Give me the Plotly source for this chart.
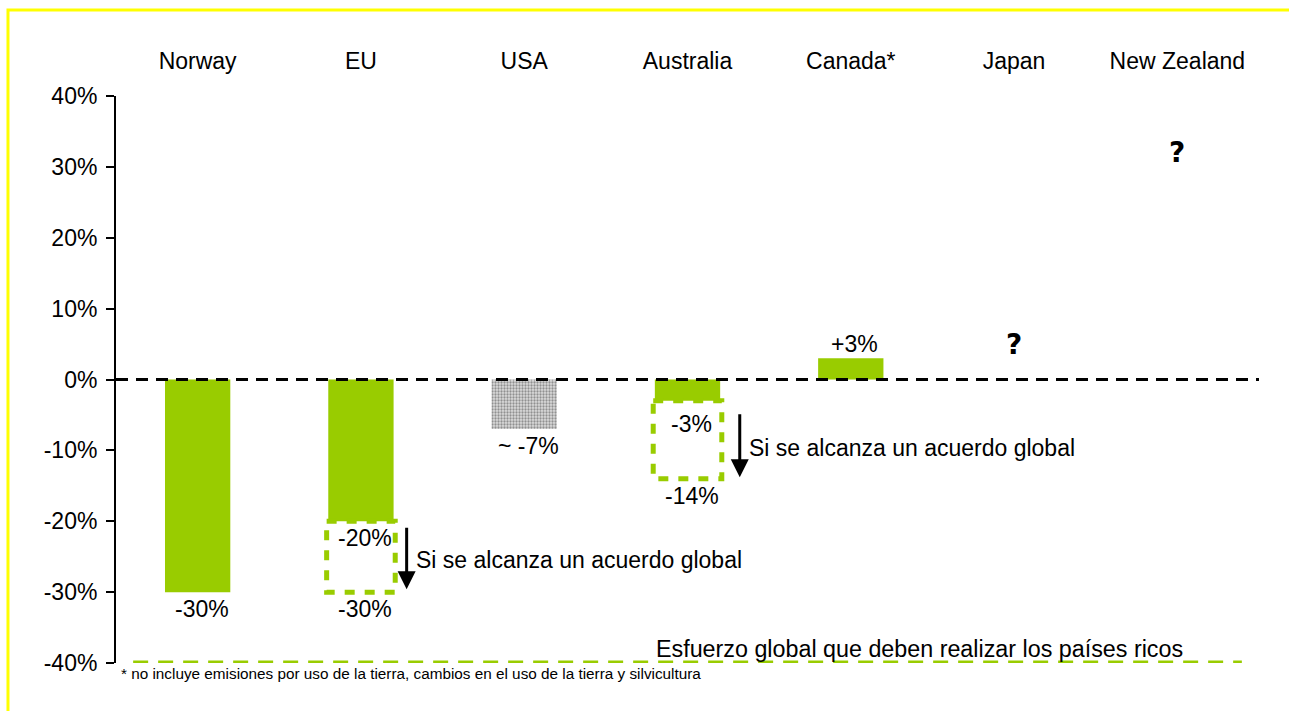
import plotly.graph_objects as go

categories = ["Norway", "EU", "USA", "Australia", "Canada*", "Japan", "New Zealand"]
bar_values = [-30, -20, -7, -3, 3, None, None]
bar_labels = ["-30%", "-20%", "~ -7%", "-3%", "+3%", "", ""]
# conditional targets (if global agreement reached)
cond_cat = ["EU", "Australia"]
cond_from = [-20, -3]
cond_to = [-30, -14]
cond_to_labels = ["-30%", "-14%"]
cond_text = "Si se alcanza un acuerdo global"
unknown_cat = ["Japan", "New Zealand"]
unknown_y = [5, 32]
global_effort = -40
global_effort_text = "Esfuerzo global que deben realizar los países ricos"
footnote = "* no incluye emisiones por uso de la tierra, cambios en el uso de la tierra y silvicultura"
y_ticks = [40, 30, 20, 10, 0, -10, -20, -30, -40]
y_ticklabels = [f"{t}%" for t in y_ticks]

GREEN = "#99cc00"
FONT = "Liberation Sans, Arial, sans-serif"
idx = {c: i for i, c in enumerate(categories)}
BW = 0.4
LBL = 23

# layout helpers (positions, not data)
label_shift = {"Norway": -2, "EU": -2, "USA": -2, "Australia": -8, "Canada*": -1}
arrow_dx = [0.28, 0.32]
arrow_top = [-20.7, -4.7]
arrow_bottom = [-29.6, -13.8]
text_dx = [0.325, 0.365]
text_y = [-25.4, -9.6]

fig = go.Figure()

colors = [GREEN if c != "USA" else "#dcdcdc" for c in categories]
patterns = ["" if c != "USA" else "." for c in categories]
fig.add_trace(go.Bar(
    x=categories, y=bar_values, width=BW,
    marker=dict(color=colors, line=dict(width=0),
                pattern=dict(shape=patterns, fgcolor="#5a5a5a", size=3, solidity=0.45)),
    hoverinfo="skip", showlegend=False,
))

shapes = []
annotations = []

# zero line
shapes.append(dict(type="line", xref="paper", yref="y", x0=0, x1=1, y0=0, y1=0,
                   line=dict(color="black", width=3, dash="12px,8px"), layer="above"))

# global effort line
shapes.append(dict(type="line", xref="paper", yref="y", x0=0.015, x1=0.985,
                   y0=global_effort, y1=global_effort,
                   line=dict(color=GREEN, width=5, dash="15px,10px")))

# bar labels
for c, v, lab in zip(categories, bar_values, bar_labels):
    if v is None or lab == "":
        continue
    annotations.append(dict(x=c, y=v, text=lab, showarrow=False,
                            yanchor="top" if v < 0 else "bottom",
                            yshift=label_shift[c], xshift=4,
                            font=dict(size=LBL, color="black", family=FONT)))

# conditional dashed boxes, arrows and texts
for k, (c, f, t, tl) in enumerate(zip(cond_cat, cond_from, cond_to, cond_to_labels)):
    i = idx[c]
    shapes.append(dict(type="rect", xref="x", yref="y", x0=i - 0.21, x1=i + 0.21, y0=f, y1=t,
                       line=dict(color=GREEN, width=5, dash="10px,10px"), fillcolor="rgba(0,0,0,0)"))
    annotations.append(dict(x=i, y=t, text=tl, showarrow=False, yanchor="top", yshift=-2, xshift=4,
                            font=dict(size=LBL, color="black", family=FONT)))
    annotations.append(dict(x=i + arrow_dx[k], y=arrow_bottom[k], ax=i + arrow_dx[k], ay=arrow_top[k],
                            xref="x", yref="y", axref="x", ayref="y",
                            text="", showarrow=True, arrowhead=2, arrowsize=1.2,
                            arrowwidth=3, arrowcolor="black"))
    annotations.append(dict(x=i + text_dx[k], y=text_y[k], text=cond_text, showarrow=False,
                            xanchor="left", yanchor="middle",
                            font=dict(size=23, color="black", family=FONT)))

# unknown values
for c, yv in zip(unknown_cat, unknown_y):
    annotations.append(dict(x=c, y=yv, text="<b>?</b>", showarrow=False,
                            font=dict(size=28, color="black", family="DejaVu Sans, sans-serif")))

annotations.append(dict(xref="paper", yref="y", x=0.935, y=global_effort, text=global_effort_text,
                        showarrow=False, xanchor="right", yanchor="bottom", yshift=-1,
                        font=dict(size=23.3, color="black", family=FONT)))
annotations.append(dict(xref="paper", yref="paper", x=0.003, y=0.0, text=footnote,
                        showarrow=False, xanchor="left", yanchor="top",
                        font=dict(size=15.3, color="black", family=FONT)))

# yellow frame
shapes.append(dict(type="rect", xref="paper", yref="paper", x0=-0.0945, x1=1.06, y0=-0.2, y1=1.1517,
                   line=dict(color="#ffff00", width=3), fillcolor="rgba(0,0,0,0)"))

fig.update_layout(
    width=1289, height=711,
    margin=dict(l=116, r=30, t=96, b=48),
    paper_bgcolor="white", plot_bgcolor="white",
    font=dict(family=FONT, color="black", size=22),
    shapes=shapes, annotations=annotations,
    xaxis=dict(type="category", categoryorder="array", categoryarray=categories,
               side="top", showline=False, ticks="", showgrid=False, zeroline=False,
               tickfont=dict(size=23), ticklabelstandoff=21, range=[-0.5, 6.5]),
    yaxis=dict(range=[-40, 40], tickvals=y_ticks, ticktext=y_ticklabels,
               showline=True, linecolor="black", linewidth=2, ticks="outside",
               ticklen=8, tickwidth=2, tickcolor="black", showgrid=False, zeroline=False,
               tickfont=dict(size=23), ticklabelstandoff=4),
)

fig.write_html("out.html")
